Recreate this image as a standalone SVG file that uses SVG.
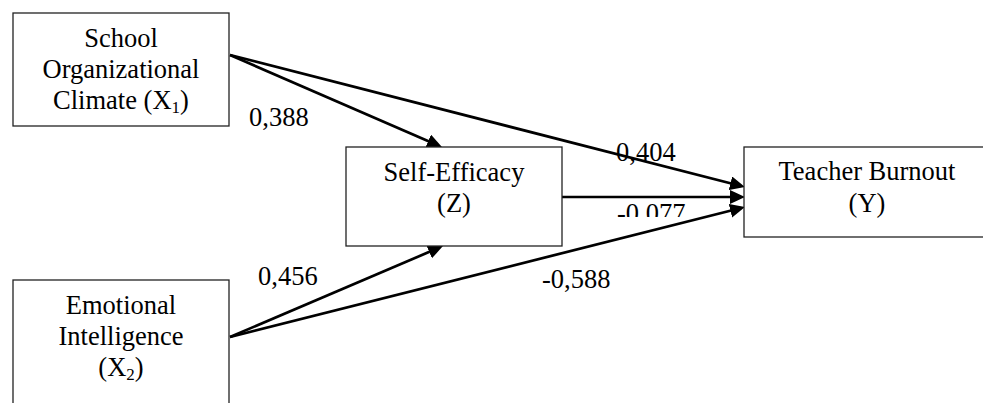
<svg xmlns="http://www.w3.org/2000/svg" width="983" height="403" viewBox="0 0 983 403">
  <style>
    .box { fill: #ffffff; stroke: #222222; stroke-width: 1.3; }
    .lbl { font-family: "Liberation Serif", "DejaVu Serif", serif; font-size: 26.5px; fill: #000000; }
    .mid { text-anchor: middle; }
    .sub { font-size: 17px; }
    .edge { fill: none; stroke: #000000; stroke-width: 2.7; marker-end: url(#head); }
  </style>
  <defs>
    <marker id="head" markerUnits="userSpaceOnUse" markerWidth="17" markerHeight="15" refX="11" refY="7" orient="auto">
      <path d="M0,0 L15,7 L0,14 z" fill="#000000"/>
    </marker>
    <clipPath id="clipTop"><rect x="600" y="142" width="100" height="40"/></clipPath>
    <clipPath id="clipBottom"><rect x="600" y="190" width="100" height="27"/></clipPath>
  </defs>

  <rect width="983" height="403" fill="#ffffff"/>

  <!-- paths between constructs -->
  <g id="connectors">
    <path class="edge" d="M230,55 L438.3,145.4"/>
    <path class="edge" d="M230,55 L741.1,186"/>
    <path class="edge" d="M562,197 L741,197"/>
    <path class="edge" d="M230,337 L439.3,247.6"/>
    <path class="edge" d="M230,337 L741.1,208"/>
  </g>

  <g id="node-x1">
    <rect class="box" x="13" y="13" width="216" height="113"/>
    <text class="lbl mid" x="121" y="47">School</text>
    <text class="lbl mid" x="121" y="78">Organizational</text>
    <text class="lbl mid" x="121" y="109">Climate (X<tspan class="sub" dy="4">1</tspan><tspan dy="-4">)</tspan></text>
  </g>

  <g id="node-z">
    <rect class="box" x="346" y="147" width="216" height="99"/>
    <text class="lbl mid" x="454" y="181">Self-Efficacy</text>
    <text class="lbl mid" x="454" y="212">(Z)</text>
  </g>

  <g id="node-y">
    <rect class="box" x="744" y="147" width="246" height="90"/>
    <text class="lbl mid" x="867" y="180">Teacher Burnout</text>
    <text class="lbl mid" x="867" y="212">(Y)</text>
  </g>

  <g id="node-x2">
    <rect class="box" x="13" y="280" width="216" height="140"/>
    <text class="lbl mid" x="121" y="314">Emotional</text>
    <text class="lbl mid" x="121" y="345">Intelligence</text>
    <text class="lbl mid" x="121" y="376">(X<tspan class="sub" dy="4">2</tspan><tspan dy="-4">)</tspan></text>
  </g>

  <!-- path coefficients -->
  <g id="coefficients">
    <text class="lbl" x="249" y="126">0,388</text>
    <text class="lbl" x="258" y="285">0,456</text>
    <text class="lbl" x="616" y="161" clip-path="url(#clipTop)">0,404</text>
    <text class="lbl" x="617" y="222" clip-path="url(#clipBottom)">-0.077</text>
    <text class="lbl" x="542" y="288">-0,588</text>
  </g>
</svg>
